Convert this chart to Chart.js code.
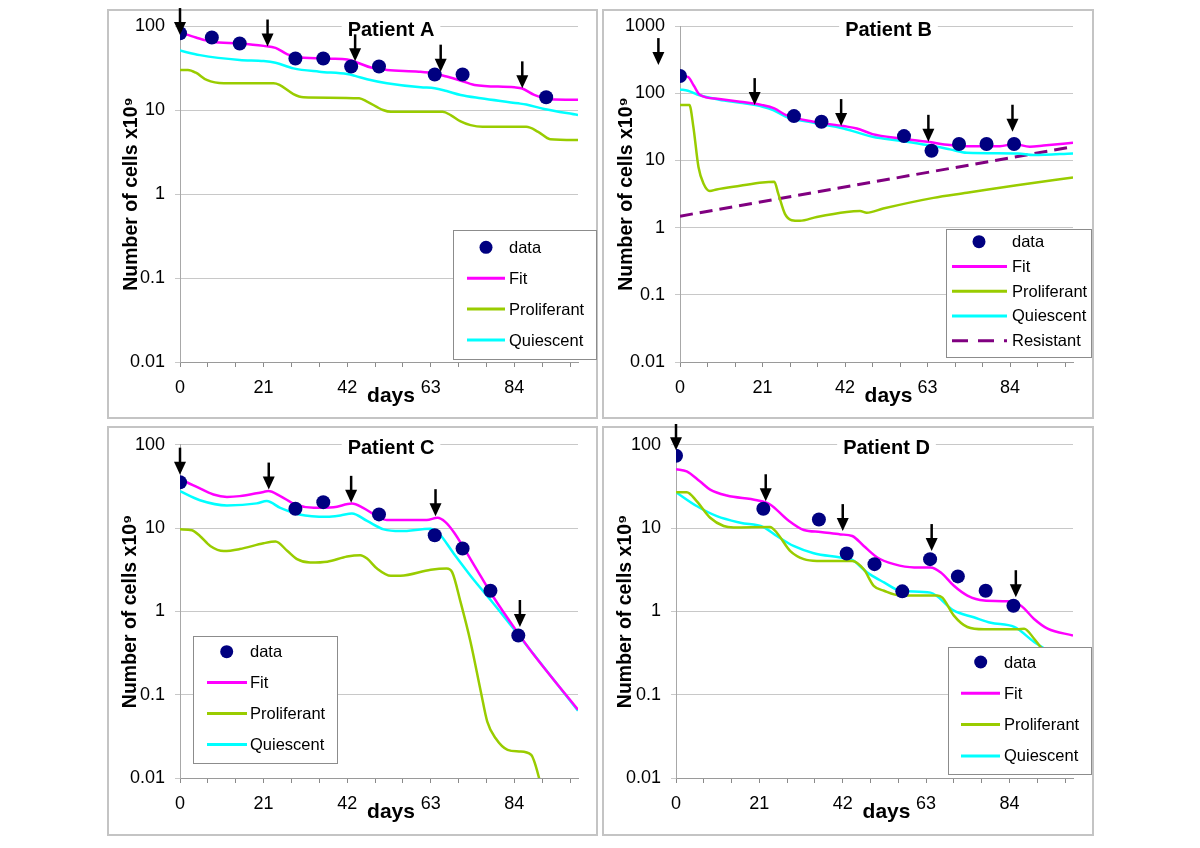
<!DOCTYPE html>
<html>
<head>
<meta charset="utf-8">
<title>Patients A-D: number of cells</title>
<script src="https://cdn.jsdelivr.net/npm/chart.js@4.4.1/dist/chart.umd.min.js"></script>
<style>
  body { margin: 0; background: #fff; }
  #page { position: relative; width: 1200px; height: 848px; overflow: hidden; }
  .frame { position: absolute; box-sizing: border-box; border: 2px solid #c4c4c4; }
  .panel { position: absolute; width: 500px; height: 424px; }
</style>
</head>
<body>
<div id="page">
  <div class="frame" style="left:107px; top:9px; width:491px; height:410px"></div>
  <div class="frame" style="left:602px; top:9px; width:492px; height:410px"></div>
  <div class="frame" style="left:107px; top:426px; width:491px; height:410px"></div>
  <div class="frame" style="left:602px; top:426px; width:492px; height:410px"></div>
  <div class="panel" style="left:100px; top:0"><canvas id="chartA" width="500" height="424"></canvas></div>
  <div class="panel" style="left:600px; top:0"><canvas id="chartB" width="500" height="424"></canvas></div>
  <div class="panel" style="left:100px; top:424px"><canvas id="chartC" width="500" height="424"></canvas></div>
  <div class="panel" style="left:600px; top:424px"><canvas id="chartD" width="500" height="424"></canvas></div>
</div>
<script>
// ---- оси: общие деления ----
const xTickDays = [0, 7, 14, 21, 28, 35, 42, 49, 56, 63, 70, 77, 84, 91, 98];
const xLabelDays = [0, 21, 42, 63, 84];
const yTicksSmall = [0.01, 0.1, 1, 10, 100];
const yTicksBig = [0.01, 0.1, 1, 10, 100, 1000];

// ---- Patient A ----
const dataDaysA = [0, 8, 15, 29, 36, 43, 50, 64, 71, 92];
const dataCellsA = [82, 73, 62, 41, 41, 33, 33, 26.5, 26.5, 14.2];
const fitDaysA = [0, 4, 8, 15, 21, 24, 27, 30, 38, 42, 45, 48, 52, 60, 64, 67, 70, 74, 84, 86, 89, 93, 100];
const fitA = [84, 73, 65, 62, 58, 55, 46, 42.4, 40.8, 40, 36, 32, 30, 28.6, 27.2, 25, 22.8, 19.9, 18.6, 18, 15.1, 13.4, 13.2];
const prolDaysA = [0, 2, 4, 6.7, 11, 23.5, 25, 28.5, 31, 45, 47, 51, 53, 66, 68, 70.5, 73, 76, 87, 90, 93, 100];
const prolA = [30, 30, 27.8, 22.8, 20.8, 20.8, 19.9, 15.5, 14.2, 13.8, 12.6, 10, 9.5, 9.5, 8.7, 7.3, 6.6, 6.3, 6.3, 5.5, 4.5, 4.4];
const quiesDaysA = [0, 5, 15, 21, 24, 28.5, 35, 42, 44, 47, 52, 60.5, 64, 67, 70.5, 75.6, 85, 87, 91.5, 100];
const quiesA = [51, 45, 39.4, 38.3, 36.5, 31.3, 28.6, 26.8, 25.5, 23.2, 20.8, 18.6, 18.2, 16.8, 15.1, 13.8, 12, 11.6, 10.3, 8.7];
const arrowDaysA = [0, 22, 44, 65.5, 86];
const arrowTipsA = [78, 57, 38, 28.6, 18.1];

// ---- Patient B ----
const dataDaysB = [0, 29, 36, 57, 64, 71, 78, 85];
const dataCellsB = [180, 45.6, 37.6, 23, 13.9, 17.5, 17.5, 17.5];
const fitDaysB = [0, 2, 3.5, 5, 10, 15.3, 21, 24, 27, 34, 41.6, 45, 49, 56, 63, 68.7, 73, 81.4, 85, 89, 92.5, 100];
const fitB = [180, 175, 130, 95, 82, 74.6, 66.5, 59.4, 47.2, 37.6, 32.4, 29.9, 24.6, 21.2, 18.9, 16.9, 16.3, 16.3, 17.5, 16, 16.6, 18.3];
const prolDaysB = [0, 2.4, 3.4, 4.7, 6, 7.6, 9.3, 15.3, 21, 24, 25, 26.7, 28.4, 30.5, 34.8, 42.4, 45.8, 47.5, 51.7, 64.5, 73, 85.7, 100];
const prolB = [66.5, 66.5, 31.6, 8, 4.5, 3.5, 3.7, 4.2, 4.7, 4.8, 3.2, 1.6, 1.29, 1.26, 1.44, 1.71, 1.76, 1.66, 1.92, 2.77, 3.29, 4.28, 5.57];
const quiesDaysB = [0, 2, 5, 10, 15.3, 21, 23.7, 27, 34, 41.6, 49, 56, 63, 68.7, 73, 86, 90, 100];
const quiesB = [114, 109, 93, 80, 72.1, 63, 56.1, 44.6, 36.3, 29.9, 22.5, 19.6, 16.9, 14.6, 13, 12.7, 12, 12.7];
const resDaysB = [0, 100];
const resB = [1.48, 16];
const arrowDaysB = [-5.5, 19, 41, 63.2, 84.6];
const arrowTipsB = [262, 66.5, 32.4, 18.9, 26.7];

// ---- Patient C ----
const dataDaysC = [0, 29, 36, 50, 64, 71, 78, 85];
const dataCellsC = [35.5, 17.1, 20.5, 14.6, 8.2, 5.7, 1.77, 0.514];
const fitDaysC = [0, 1.7, 4.2, 8.4, 11.8, 15, 21, 22.2, 25.2, 29, 33.6, 38.6, 43.2, 46, 49.5, 52, 62, 64.7, 66.7, 68.9, 74, 78.5, 84.8, 89, 100];
const fitC = [38.2, 35.5, 31.2, 25.3, 23.7, 24.2, 27.2, 27.8, 24.2, 19.2, 17.5, 17.8, 19.7, 17.5, 13.9, 12.5, 12.5, 13.3, 11.8, 8.8, 3.52, 1.55, 0.56, 0.297, 0.066];
const prolDaysC = [0, 3, 5, 7.6, 11, 15, 21, 24, 27, 29.4, 32.7, 37, 42, 45.3, 47, 49.5, 53, 55.4, 63, 67, 68.4, 70.5, 73, 75.6, 77.2, 79.3, 82.3, 85.2, 88.2, 90.7, 92];
const prolC = [9.66, 9.4, 8.04, 6.1, 5.3, 5.6, 6.58, 6.9, 5.3, 4.24, 3.86, 3.95, 4.56, 4.73, 4.31, 3.27, 2.68, 2.68, 3.16, 3.27, 2.94, 1.29, 0.43, 0.108, 0.0475, 0.03, 0.0218, 0.0208, 0.019, 0.0083, 0.005];
const quiesDaysC = [0, 5, 11.8, 19.3, 21.8, 25.2, 30, 37, 40.3, 43.2, 47, 51.2, 55.4, 63, 64.7, 68.9, 74, 78.5, 84.8, 100];
const quiesC = [27.7, 21.6, 18.7, 19.8, 21.1, 17.5, 14.6, 13.7, 14.2, 15, 12.2, 9.66, 9.2, 9.84, 9.0, 4.86, 2.33, 1.29, 0.54, 0.064];
const arrowDaysC = [0, 22.3, 43, 64.2, 85.4];
const arrowTipsC = [43.8, 29, 20.1, 13.9, 0.65];

// ---- Patient D ----
const dataDaysD = [0, 22, 36, 43, 50, 57, 64, 71, 78, 85];
const dataCellsD = [74, 17.1, 12.7, 4.95, 3.69, 1.74, 4.24, 2.63, 1.77, 1.17];
const fitDaysD = [0, 2.7, 6, 8.6, 12.8, 20.4, 23.7, 28, 32.2, 36.4, 41.4, 44.4, 47.3, 50.7, 54.9, 60, 64.1, 66.7, 70, 73.4, 77.6, 83.5, 86.9, 90.2, 93.6, 100];
const fitD = [51, 48, 36.5, 29, 24.6, 21.6, 19.2, 12.7, 9.5, 9.0, 8.4, 8.04, 6.1, 4.44, 3.69, 3.37, 3.37, 2.94, 2.03, 1.55, 1.35, 1.32, 1.17, 0.81, 0.62, 0.514];
const prolDaysD = [0, 2.7, 5.2, 8.6, 12, 14.5, 23.7, 25.4, 28.8, 32.2, 35.5, 44.4, 47.3, 49.8, 52.4, 56.6, 65.8, 67.1, 70, 73.4, 77.6, 86, 87.7, 90.2, 91.9, 100];
const prolD = [27, 27, 21.1, 13.3, 10.6, 10.2, 10.3, 8.8, 5.3, 4.24, 4.04, 4.04, 3.2, 2.03, 1.77, 1.55, 1.55, 1.46, 0.89, 0.65, 0.61, 0.61, 0.62, 0.47, 0.37, 0.15];
const quiesDaysD = [0, 5.2, 10.3, 16.2, 22, 25.4, 29.6, 34.7, 41.4, 44.4, 48.1, 52.4, 56.6, 64.1, 70, 75, 79.3, 85.2, 90.2, 92.8, 100];
const quiesD = [27, 18.4, 13.9, 11.6, 10.3, 8.04, 6.1, 5.0, 4.44, 4.16, 2.94, 2.23, 1.77, 1.68, 1.02, 0.85, 0.73, 0.65, 0.43, 0.356, 0.2];
const arrowDaysD = [0, 22.6, 42, 64.4, 85.6];
const arrowTipsD = [86, 21, 9.2, 5.3, 1.48];

const FONT = '"Liberation Sans", Arial, sans-serif';
const NAVY = '#000080';
const MAGENTA = '#ff00ff';
const GREEN = '#99cc00';
const CYAN = '#00ffff';
const PURPLE = '#800080';

Chart.defaults.font.family = FONT;
Chart.defaults.color = '#000';

const pts = (xs, ys) => xs.map((x, i) => ({ x: x, y: ys[i] }));

function curve(label, xs, ys, color, dash) {
  return {
    label: label,
    data: pts(xs, ys),
    borderColor: color,
    backgroundColor: color,
    borderWidth: dash ? 3 : 2.5,
    borderDash: dash || [],
    pointRadius: 0,
    cubicInterpolationMode: dash ? 'default' : 'monotone'
  };
}

// Рамка легенды, заголовок, подпись "days" и стрелки доз
const panelDecor = {
  id: 'panelDecor',
  beforeDatasetsDraw(chart, args, o) {
    const { ctx, chartArea: a } = chart;
    const cx = (a.left + a.right) / 2 + 12;
    ctx.save();
    ctx.font = 'bold 20px ' + FONT;
    const w = ctx.measureText(o.title).width + 12;
    ctx.fillStyle = '#fff';
    ctx.fillRect(cx - w / 2, a.top - 10, w, 21);
    ctx.fillStyle = '#000';
    ctx.textAlign = 'center';
    ctx.textBaseline = 'middle';
    ctx.fillText(o.title, cx, a.top + 4);
    ctx.font = 'bold 21px ' + FONT;
    ctx.textBaseline = 'alphabetic';
    ctx.fillText('days', cx, a.bottom + 40);
    ctx.restore();
  },
  afterDatasetsDraw(chart, args, o) {
    const { ctx, scales: { x, y } } = chart;
    ctx.save();
    ctx.fillStyle = '#000';
    ctx.strokeStyle = '#000';
    ctx.lineWidth = 2.5;
    o.arrowDays.forEach((d, i) => {
      const px = x.getPixelForValue(d);
      const py = y.getPixelForValue(o.arrowTips[i]);
      ctx.beginPath();
      ctx.moveTo(px, py - 27);
      ctx.lineTo(px, py - 11);
      ctx.stroke();
      ctx.beginPath();
      ctx.moveTo(px - 6, py - 13);
      ctx.lineTo(px + 6, py - 13);
      ctx.lineTo(px, py);
      ctx.closePath();
      ctx.fill();
    });
    ctx.restore();
  },
  afterDraw(chart, args, o) {
    const { ctx } = chart;
    const L = o.legend;
    ctx.save();
    ctx.fillStyle = '#fff';
    ctx.fillRect(L.x, L.y, L.w, L.h);
    ctx.strokeStyle = '#8c8c8c';
    ctx.lineWidth = 1;
    ctx.strokeRect(L.x + 0.5, L.y + 0.5, L.w - 1, L.h - 1);
    ctx.font = '16.5px ' + FONT;
    ctx.textAlign = 'left';
    ctx.textBaseline = 'middle';
    chart.data.datasets.forEach((ds, i) => {
      const yy = L.y + L.row0 + i * L.gap;
      if (ds.showLine === false) {
        ctx.fillStyle = ds.backgroundColor;
        ctx.beginPath();
        ctx.arc(L.x + L.dotX, yy, 6.5, 0, Math.PI * 2);
        ctx.fill();
      } else {
        ctx.strokeStyle = ds.borderColor;
        ctx.lineWidth = 3;
        ctx.setLineDash(ds.borderDash && ds.borderDash.length ? [16, 10] : []);
        ctx.beginPath();
        ctx.moveTo(L.x + L.line0, yy);
        ctx.lineTo(L.x + L.line1, yy);
        ctx.stroke();
        ctx.setLineDash([]);
      }
      ctx.fillStyle = '#000';
      ctx.fillText(ds.label, L.x + L.textX, yy + 1);
    });
    ctx.restore();
  }
};

function buildChart(id, p) {
  const datasets = [
    {
      label: 'data',
      data: pts(p.dataDays, p.dataCells),
      showLine: false,
      pointRadius: 7,
      pointBorderWidth: 0,
      backgroundColor: NAVY,
      borderColor: NAVY
    },
    curve('Fit', p.fitDays, p.fit, MAGENTA),
    curve('Proliferant', p.prolDays, p.prol, GREEN),
    curve('Quiescent', p.quiesDays, p.quies, CYAN)
  ];
  if (p.resDays) datasets.push(curve('Resistant', p.resDays, p.res, PURPLE, [13, 7]));

  return new Chart(document.getElementById(id), {
    type: 'line',
    data: { datasets: datasets },
    plugins: [panelDecor],
    options: {
      responsive: false,
      animation: false,
      layout: { padding: { left: 0, top: p.top, right: p.right, bottom: 0 } },
      plugins: {
        legend: { display: false },
        tooltip: { enabled: false },
        panelDecor: {
          title: p.title,
          arrowDays: p.arrowDays,
          arrowTips: p.arrowTips,
          legend: p.legend
        }
      },
      scales: {
        x: {
          type: 'linear',
          min: 0,
          max: 100,
          afterFit: s => { s.height = p.xHeight; },
          afterBuildTicks: s => { s.ticks = xTickDays.map(v => ({ value: v })); },
          ticks: {
            autoSkip: false,
            maxRotation: 0,
            padding: 10,
            font: { size: 18 },
            callback: v => (xLabelDays.includes(v) ? String(v) : '')
          },
          grid: { drawOnChartArea: false, drawTicks: true, tickLength: 5, color: '#8a8a8a' },
          border: { color: '#9a9a9a', width: 1 }
        },
        y: {
          type: 'logarithmic',
          min: 0.01,
          max: p.yMax,
          afterFit: s => { s.width = p.yWidth; },
          afterBuildTicks: s => { s.ticks = p.yTicks.map(v => ({ value: v })); },
          ticks: {
            padding: 10,
            font: { size: 18 },
            callback: v => String(v)
          },
          grid: { color: '#c8c8c8', tickLength: 5 },
          border: { color: '#a8a8a8', width: 1 },
          title: {
            display: true,
            text: 'Number of cells x10⁹',
            font: { size: 19.5, weight: 'bold' },
            padding: { top: p.titlePad, bottom: 0 }
          }
        }
      }
    }
  });
}

buildChart('chartA', {
  title: 'Patient A',
  dataDays: dataDaysA, dataCells: dataCellsA,
  fitDays: fitDaysA, fit: fitA,
  prolDays: prolDaysA, prol: prolA,
  quiesDays: quiesDaysA, quies: quiesA,
  arrowDays: arrowDaysA, arrowTips: arrowTipsA,
  yTicks: yTicksSmall, yMax: 100,
  top: 26, right: 22, yWidth: 80, xHeight: 62, titlePad: 20,
  legend: { x: 353, y: 230, w: 144, h: 130, row0: 17.3, gap: 30.9, dotX: 33, line0: 14, line1: 52, textX: 56 }
});

buildChart('chartB', {
  title: 'Patient B',
  dataDays: dataDaysB, dataCells: dataCellsB,
  fitDays: fitDaysB, fit: fitB,
  prolDays: prolDaysB, prol: prolB,
  quiesDays: quiesDaysB, quies: quiesB,
  resDays: resDaysB, res: resB,
  arrowDays: arrowDaysB, arrowTips: arrowTipsB,
  yTicks: yTicksBig, yMax: 1000,
  top: 26, right: 27, yWidth: 80, xHeight: 62, titlePad: 15,
  legend: { x: 346, y: 229, w: 146, h: 129, row0: 12.7, gap: 24.75, dotX: 33, line0: 6, line1: 61, textX: 66 }
});

buildChart('chartC', {
  title: 'Patient C',
  dataDays: dataDaysC, dataCells: dataCellsC,
  fitDays: fitDaysC, fit: fitC,
  prolDays: prolDaysC, prol: prolC,
  quiesDays: quiesDaysC, quies: quiesC,
  arrowDays: arrowDaysC, arrowTips: arrowTipsC,
  yTicks: yTicksSmall, yMax: 100,
  top: 19, right: 22, yWidth: 80, xHeight: 70, titlePad: 19,
  legend: { x: 93, y: 212, w: 145, h: 128, row0: 15.7, gap: 30.9, dotX: 33.7, line0: 14, line1: 54, textX: 57 }
});

buildChart('chartD', {
  title: 'Patient D',
  dataDays: dataDaysD, dataCells: dataCellsD,
  fitDays: fitDaysD, fit: fitD,
  prolDays: prolDaysD, prol: prolD,
  quiesDays: quiesDaysD, quies: quiesD,
  arrowDays: arrowDaysD, arrowTips: arrowTipsD,
  yTicks: yTicksSmall, yMax: 100,
  top: 19, right: 27, yWidth: 76, xHeight: 70, titlePad: 14,
  legend: { x: 348, y: 223, w: 144, h: 128, row0: 15, gap: 31.3, dotX: 32.7, line0: 13, line1: 52, textX: 56 }
});
</script>
</body>
</html>
